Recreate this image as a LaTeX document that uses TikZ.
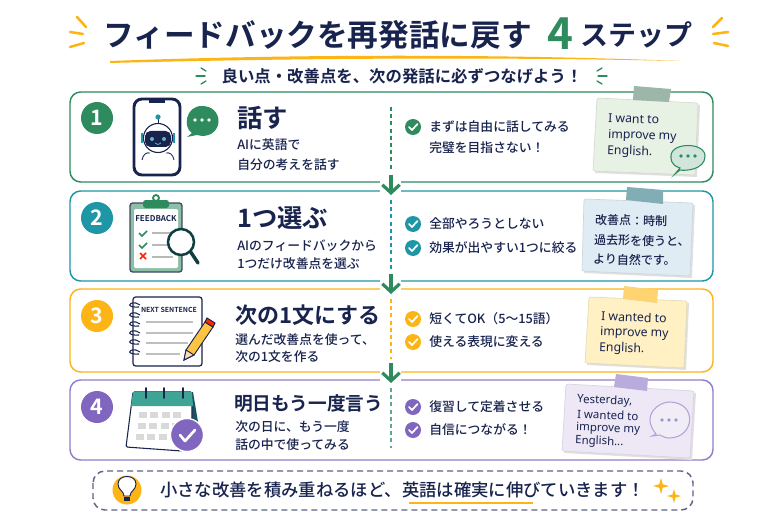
\documentclass[tikz,border=0pt]{standalone}
\usepackage{fontspec}
\setmainfont{Noto Sans CJK JP Medium}[BoldFont={Noto Sans CJK JP Bold}]
\newfontfamily\latinfont{Noto Sans}
\usetikzlibrary{arrows.meta}

\definecolor{navy}{RGB}{24,35,78}
\definecolor{stepgreen}{RGB}{46,139,94}
\definecolor{stepteal}{RGB}{30,150,165}
\definecolor{stepamber}{RGB}{253,181,21}
\definecolor{steppurple}{RGB}{128,102,190}
\definecolor{darkteal}{RGB}{15,62,66}
\definecolor{calteal}{RGB}{62,165,150}
\definecolor{papergreen}{RGB}{232,242,228}
\definecolor{paperteal}{RGB}{224,236,244}
\definecolor{paperamber}{RGB}{255,241,196}
\definecolor{paperpurple}{RGB}{238,232,246}

\tikzset{
  stepcard/.style={draw=#1,line width=1.1pt,fill=white,rounded corners=8pt},
  stepbadge/.style={circle,fill=#1,text=white,inner sep=0pt,minimum size=24pt,font=\fontsize{16}{16}\selectfont\bfseries},
  steptitle/.style={anchor=west,inner sep=0pt,text=navy,font=\fontsize{#1}{#1}\selectfont\bfseries},
  stepdesc/.style={anchor=west,inner sep=0pt,text=navy,font=\fontsize{9.6}{10}\selectfont},
  checktext/.style={anchor=west,inner sep=0pt,text=navy,font=\fontsize{9.6}{10}\selectfont},
  notetext/.style={anchor=west,inner sep=0pt,text=navy,rotate=-2,font=\latinfont\fontsize{#1}{#1}\selectfont},
  notejp/.style={anchor=west,inner sep=0pt,text=navy,rotate=-1,font=\fontsize{9}{10}\selectfont},
  notepaper/.style={draw=#1!80!gray,line width=.5pt,fill=#1,rounded corners=1.5pt},
  downarrow/.style={-{Straight Barb[length=6pt,width=13pt,line width=2.4pt]},line width=2.4pt,stepgreen},
  stepdash/.style={dash pattern=on 3pt off 2.4pt,line width=1pt,#1},
  spark/.style={line width=1.9pt,line cap=round,stepamber},
  sparkgreen/.style={line width=1pt,line cap=round,stepgreen},
}

\newcommand{\checkbadge}[4]{% name, colour, x, y
  \node (#1) [circle,fill=#2,minimum size=12pt,inner sep=0pt] at (#3,#4) {};
  \draw [white,line width=1.3pt,line cap=round,line join=round] (#3-4,#4) -- (#3-1,#4+3) -- (#3+4.5,#4-3);
}
\newcommand{\fourstar}[3]{% x, y, r
  \fill [stepamber] (#1,#2-#3) -- (#1+.22*#3,#2-.22*#3) -- (#1+#3,#2) -- (#1+.22*#3,#2+.22*#3) -- (#1,#2+#3) -- (#1-.22*#3,#2+.22*#3) -- (#1-#3,#2) -- (#1-.22*#3,#2-.22*#3) -- cycle;
}

\begin{document}
\begin{tikzpicture}[x=0.75pt,y=0.75pt,yscale=-1,xscale=1]
\useasboundingbox (0,0) rectangle (780,520);
\fill [white] (0,0) rectangle (780,520);

% Title
\node (titlemain) [steptitle=23] at (103,35) {フィードバックを再発話に戻す};
\node (titlefour) [anchor=center,inner sep=0pt,text=stepgreen,font=\fontsize{33}{33}\selectfont\bfseries] at (560,34) {4};
\node (titleend) [steptitle=21,anchor=east] at (693,35) {ステップ};
\fill [stepamber] (110,61) .. controls (300,54) and (500,54) .. (681,61) .. controls (500,57) and (300,58) .. (110,63) -- cycle;
\draw [spark] (77,17) -- (86,27);
\draw [spark] (70,32) -- (83,34);
\draw [spark] (70,47) -- (84,43);
\draw [spark] (722,18) -- (713,27);
\draw [spark] (728,32) -- (713,34);
\draw [spark] (728,46) -- (714,43);

% Subtitle
\node (subtitle) [anchor=center,inner sep=0pt,text=navy,font=\fontsize{12.3}{12.3}\selectfont\bfseries] at (402,76) {良い点・改善点を、次の発話に必ずつなげよう！};
\draw [sparkgreen] (201,68) -- (206,71);
\draw [sparkgreen] (196,76) -- (205,76);
\draw [sparkgreen] (201,84) -- (206,81);
\draw [sparkgreen] (602,68) -- (597,71);
\draw [sparkgreen] (607,76) -- (598,76);
\draw [sparkgreen] (602,84) -- (597,81);

%Shape: cards
\draw [stepcard=stepgreen] (70,92) rectangle (713,182);
\draw [stepcard=stepteal] (70,191) rectangle (713,281);
\draw [stepcard=stepamber] (70,289) rectangle (713,372);
\draw [stepcard=steppurple!85] (70,380) rectangle (713,460);

% Badges
\node (badgea) [stepbadge=stepgreen] at (97,118) {1};
\node (badgeb) [stepbadge=stepteal] at (97,218) {2};
\node (badgec) [stepbadge=stepamber] at (97,316) {3};
\node (badged) [stepbadge=steppurple] at (97,407) {4};

% Step texts
\node (titlea) [steptitle=19] at (237,118) {話す};
\node (desca) [stepdesc] at (237,145) {AIに英語で};
\node (descaa) [stepdesc] at (237,165) {自分の考えを話す};
\node (titleb) [steptitle=19] at (237,218) {1つ選ぶ};
\node (descb) [stepdesc] at (237,246) {AIのフィードバックから};
\node (descbb) [stepdesc] at (237,264) {1つだけ改善点を選ぶ};
\node (titlec) [steptitle=16.5] at (235,315) {次の1文にする};
\node (descc) [stepdesc] at (235,340) {選んだ改善点を使って、};
\node (desccc) [stepdesc] at (235,357) {次の1文を作る};
\node (titled) [steptitle=14] at (234,403) {明日もう一度言う};
\node (descd) [stepdesc] at (235,427) {次の日に、もう一度};
\node (descdd) [stepdesc] at (235,445) {話の中で使ってみる};

% Connectors
\coordinate (dashaa) at (391,107);
\coordinate (dashab) at (391,170);
\coordinate (dashba) at (391,200);
\coordinate (dashbb) at (391,269);
\coordinate (dashca) at (391,299);
\coordinate (dashcb) at (391,359);
\coordinate (dashda) at (391,388);
\coordinate (dashdb) at (391,448);
\coordinate (arrowaa) at (391,175);
\coordinate (arrowab) at (391,195);
\coordinate (arrowba) at (391,274);
\coordinate (arrowbb) at (391,294);
\coordinate (arrowca) at (391,363);
\coordinate (arrowcb) at (391,383);
\fill [white] (380,177) rectangle (401,196);
\fill [white] (380,276) rectangle (401,295);
\fill [white] (380,367) rectangle (401,384);
\draw [stepdash=stepgreen] (dashaa) -- (dashab);
\draw [stepdash=stepteal] (dashba) -- (dashbb);
\draw [stepdash=stepamber] (dashca) -- (dashcb);
\draw [stepdash=stepgreen!75] (dashda) -- (dashdb);
\draw [downarrow] (arrowaa) -- (arrowab);
\draw [downarrow] (arrowba) -- (arrowbb);
\draw [downarrow] (arrowca) -- (arrowcb);

% Check lists
\checkbadge{checkaa}{stepgreen}{413}{127}
\node (textaa) [checktext] at (429,127) {まずは自由に話してみる};
\node (textab) [checktext] at (429,148) {完璧を目指さない！};
\checkbadge{checkba}{stepteal}{413}{224}
\node (textba) [checktext] at (429,224) {全部やろうとしない};
\checkbadge{checkbb}{stepteal}{413}{248}
\node (textbb) [checktext] at (429,248) {効果が出やすい1つに絞る};
\checkbadge{checkca}{stepamber}{413}{319}
\node (textca) [checktext] at (429,319) {短くてOK（5〜15語）};
\checkbadge{checkcb}{stepamber}{413}{342}
\node (textcb) [checktext] at (429,342) {使える表現に変える};
\checkbadge{checkda}{steppurple}{413}{407}
\node (textda) [checktext] at (429,407) {復習して定着させる};
\checkbadge{checkdb}{steppurple}{413}{430}
\node (textdb) [checktext] at (429,430) {自信につながる！};

% Note one
\fill [black!12] (599,100) -- (700,105) -- (697,177) -- (595,173) -- cycle;
\draw [notepaper=papergreen] (597,98) -- (698,103) -- (695,175) -- (593,171) -- cycle;
\fill [stepgreen!45!gray!60] (634,86) -- (671,89) -- (669,102) -- (633,100) -- cycle;
\node (notea) [notetext=9.2] at (608,118) {I want to};
\node (noteaa) [notetext=9.2] at (608,135) {improve my};
\node (noteab) [notetext=9.2] at (607,151) {English.};
\draw [stepgreen,line width=.8pt,fill=stepgreen!22] (680,168) .. controls (670,165) and (671,158) .. (671,156) .. controls (671,142) and (705,142) .. (705,156) .. controls (705,170) and (685,171) .. (680,170) -- (675,174) -- cycle;
\foreach \dotx in {681,688,695} \fill [stepgreen] (\dotx,156) circle [radius=1.8];

% Note two
\fill [black!12] (586,201) -- (695,205) -- (692,278) -- (584,273) -- cycle;
\draw [notepaper=paperteal] (584,199) -- (693,203) -- (690,276) -- (582,271) -- cycle;
\fill [stepteal!55!gray!70] (627,187) -- (663,190) -- (663,204) -- (626,200) -- cycle;
\node (noteb) [notejp] at (595,220) {改善点：時制};
\node (noteba) [notejp] at (594,240) {過去形を使うと、};
\node (notebb) [notejp] at (593,259) {より自然です。};

% Note three
\fill [black!12] (591,299) -- (689,303) -- (686,370) -- (587,365) -- cycle;
\draw [notepaper=paperamber] (589,297) -- (687,301) -- (684,368) -- (585,363) -- cycle;
\fill [stepamber!60] (624,286) -- (658,290) -- (657,303) -- (623,299) -- cycle;
\node (notec) [notetext=9.2] at (601,316) {I wanted to};
\node (noteca) [notetext=9.2] at (600,332) {improve my};
\node (notecb) [notetext=9.2] at (599,348) {English.};

% Note four
\fill [black!12] (568,386) -- (696,393) -- (692,460) -- (564,453) -- cycle;
\draw [notepaper=paperpurple] (566,384) -- (694,391) -- (690,458) -- (562,451) -- cycle;
\fill [steppurple!55] (616,374) -- (648,378) -- (647,391) -- (614,387) -- cycle;
\node (noted) [notetext=8.6] at (577,400) {Yesterday,};
\node (noteda) [notetext=8.6] at (577,414) {I wanted to};
\node (notedb) [notetext=8.6] at (576,428) {improve my};
\node (notedc) [notetext=8.6] at (575,441) {English...};
\draw [steppurple!60,line width=.8pt,fill=steppurple!12] (656,434) .. controls (640,414) and (660,402) .. (669,402) .. controls (698,402) and (695,438) .. (669,438) .. controls (665,438) and (662,436) .. (660,435) -- (652,436) -- cycle;
\foreach \dotx in {662,669,676} \fill [steppurple!70] (\dotx,420) circle [radius=1.9];

%Shape: phone icon
\draw [navy,line width=2.2pt,fill=white,rounded corners=6pt] (134,99) rectangle (180,175);
\fill [navy] (149,100) rectangle (165,103);
\draw [navy,line width=.6pt] (158,123) -- (158,118);
\fill [stepteal] (158,117) circle [radius=2.6];
\draw [navy,line width=.8pt,fill=white] (158,138) circle [radius=14.5];
\fill [navy,rounded corners=4pt] (145,131) rectangle (171,147);
\fill [stepteal!70!white] (152,139) circle [radius=2];
\fill [stepteal!70!white] (164,139) circle [radius=2];
\draw [stepteal!70!white,line width=.6pt] (155,143) .. controls (157,145) and (159,145) .. (161,143);
\fill [stepteal] (141,133) rectangle (143,143);
\fill [stepteal] (173,133) rectangle (175,143);
\draw [navy,line width=.6pt] (142,160) .. controls (143,154) and (147,152) .. (150,153);
\draw [navy,line width=.6pt] (174,160) .. controls (173,154) and (169,152) .. (166,153);
\fill [stepgreen] (192,133) .. controls (183,128) and (185,106) .. (202,106) .. controls (224,106) and (224,136) .. (202,136) -- (197,135) -- (187,137) -- cycle;
\foreach \dotx in {195,202,209} \fill [white] (\dotx,120) circle [radius=1.8];

%Shape: clipboard icon
\draw [navy!60!gray,line width=1pt,fill=stepgreen!55,rounded corners=2pt] (130,203) rectangle (182,272);
\fill [white,rounded corners=1pt] (134,209) rectangle (178,268);
\fill [stepgreen,rounded corners=2pt] (143,200) rectangle (169,208);
\draw [stepgreen,line width=1.4pt] (156,198) circle [radius=3];
\node (feedbacktext) [inner sep=0pt,text=navy,font=\fontsize{6}{6}\selectfont\bfseries] at (156,219) {FEEDBACK};
\draw [stepgreen,line width=1.3pt] (139,233) -- (142,236) -- (147,231);
\draw [stepgreen,line width=1.3pt] (139,245) -- (142,248) -- (147,243);
\draw [red!75!orange,line width=1.3pt] (140,253) -- (146,259);
\draw [red!75!orange,line width=1.3pt] (146,253) -- (140,259);
\draw [gray!55,line width=.8pt] (152,233) -- (172,233);
\draw [gray!55,line width=.8pt] (152,245) -- (172,245);
\draw [gray!55,line width=.8pt] (152,257) -- (173,257);
\draw [darkteal,line width=2.6pt,line cap=round] (190,251) -- (198,263);
\draw [darkteal,line width=1.9pt,fill=white] (181,242) circle [radius=13];

%Shape: notebook icon
\draw [navy,line width=.9pt,fill=white,rounded corners=2pt] (133,297) rectangle (202,366);
\foreach \ringy in {305,315,324,333,342,352} \draw [navy,line width=.8pt] (139,\ringy+2) .. controls (127,\ringy+3) and (127,\ringy-3) .. (136,\ringy-2) -- (140,\ringy);
\node (nexttext) [inner sep=0pt,text=navy,font=\fontsize{5.2}{5.2}\selectfont\bfseries] at (169,310) {NEXT SENTENCE};
\draw [gray!50,line width=.8pt] (146,322) -- (193,322);
\draw [gray!50,line width=.8pt] (146,333) -- (193,333);
\draw [gray!50,line width=.8pt] (146,343) -- (188,343);
\draw [gray!50,line width=.8pt] (146,354) -- (180,354);
\draw [navy,line width=.7pt,fill=stepamber!80] (184,360) -- (186,350) -- (205,322) -- (213,327) -- (194,355) -- cycle;
\draw [navy,line width=.7pt,fill=orange!30] (184,360) -- (186,350) -- (194,355) -- cycle;
\draw [navy,line width=.7pt,fill=red!70!orange] (205,322) -- (207,318) -- (215,323) -- (213,327) -- cycle;

%Shape: calendar icon
\fill [darkteal!70!stepteal] (186,392) -- (193,392) -- (199,428) -- (192,430) -- cycle;
\draw [navy,line width=.8pt,fill=white,rounded corners=1pt] (133,392) -- (192,392) -- (192,440) -- (182,451) -- (126,447) -- cycle;
\fill [calteal] (133,392) -- (192,392) -- (193,406) -- (131,406) -- cycle;
\foreach \ringx in {146,164,183} \draw [navy,line width=1.4pt,line cap=round] (\ringx,388) -- (\ringx,398);
\foreach \celly/\cellshift in {415/0,426/-1,437/-3}
  \foreach \cellx in {143,154,166,177}
    \fill [gray!30] (\cellx+\cellshift-4,\celly-3) rectangle (\cellx+\cellshift+4,\celly+3);
\draw [white,line width=1pt,fill=steppurple] (187,435) circle [radius=16.5];
\draw [white,line width=2pt,line cap=round,line join=round] (180,435) -- (185,441) -- (195,430);

% Footer
\draw [navy!70,line width=1.1pt,dash pattern=on 4.5pt off 3pt,rounded corners=9pt] (93,471) rectangle (693,510);
\fill [stepamber] (127,490) circle [radius=14.5];
\draw [navy,line width=.7pt,fill=white] (124,496) .. controls (124,491) and (118,490) .. (118,484) .. controls (118,474) and (136,474) .. (136,484) .. controls (136,490) and (130,491) .. (130,496) -- cycle;
\fill [navy] (124,497) rectangle (130,501);
\node (footer) [anchor=west,inner sep=0pt,text=navy,font=\fontsize{13}{13}\selectfont] at (160,490) {小さな改善を積み重ねるほど、英語は確実に伸びていきます！};
\draw [stepamber,line width=1pt] (409,503) -- (533,503);
\fourstar{661}{486}{8}
\fourstar{674}{496}{7}

\end{tikzpicture}
\end{document}
